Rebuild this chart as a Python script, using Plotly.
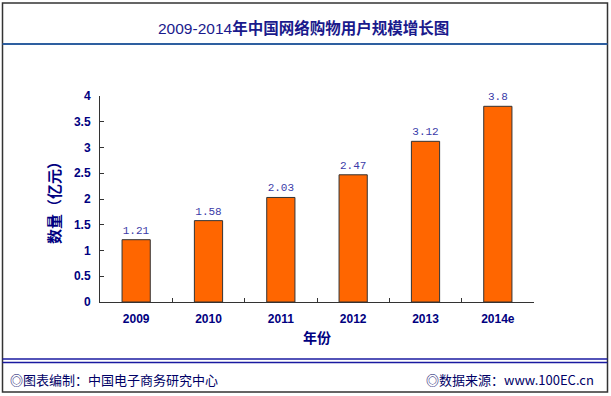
import plotly.graph_objects as go

categories = ["2009", "2010", "2011", "2012", "2013", "2014e"]
values = [1.21, 1.58, 2.03, 2.47, 3.12, 3.8]
value_labels = ["1.21", "1.58", "2.03", "2.47", "3.12", "3.8"]
y_ticks = [0, 0.5, 1, 1.5, 2, 2.5, 3, 3.5, 4]
title_text = "2009-2014<b>年中国网络购物用户规模增长图</b>"
y_title = "数量（亿元）"
x_title = "年份"
footer_left = "◎图表编制：中国电子商务研究中心"
footer_right = "◎数据来源：www.100EC.cn"

W, H = 611, 396
PL, PR, PT, PB = 100, 534, 96, 302

def px(x):
    return x / W

def py(y):
    return 1 - y / H

NAVY = "#000080"
CJK = "Liberation Sans, Noto Sans CJK SC, sans-serif"

fig = go.Figure()
fig.add_trace(go.Bar(
    x=categories, y=values, text=value_labels,
    textposition="outside", cliponaxis=False,
    textfont=dict(family="Liberation Mono, DejaVu Sans Mono, monospace", size=11, color="#3a3aa8"),
    marker=dict(color="#FF6600", line=dict(color="#333333", width=1)),
    width=0.39,
))

fig.update_layout(
    width=W, height=H,
    margin=dict(l=0, r=0, t=0, b=0),
    paper_bgcolor="white", plot_bgcolor="white",
    showlegend=False,
    xaxis=dict(
        domain=[px(PL), px(PR)],
        type="category",
        showline=True, linecolor="#333333", linewidth=1,
        ticks="inside", ticklen=4, tickcolor="#333333", tickson="boundaries",
        showgrid=False,
        ticklabelstandoff=6,
        tickfont=dict(family="Liberation Sans, Arial, sans-serif", size=12, color=NAVY, weight="bold"),
        title=dict(text=x_title, font=dict(family=CJK, size=14, color=NAVY, weight="bold"), standoff=7),
        automargin=False,
    ),
    yaxis=dict(
        domain=[py(PB), py(PT)],
        range=[0, 4],
        tickvals=y_ticks,
        ticktext=[("%g" % v) for v in y_ticks],
        showline=True, linecolor="#333333", linewidth=1,
        ticks="inside", ticklen=4, tickcolor="#333333",
        showgrid=False, zeroline=False,
        ticklabelstandoff=6,
        tickfont=dict(family="Liberation Sans, Arial, sans-serif", size=12, color=NAVY, weight="bold"),
        title=dict(text=y_title, font=dict(family=CJK, size=15, color=NAVY, weight="bold"), standoff=9),
        automargin=False,
    ),
)

fig.add_annotation(
    text=title_text, xref="paper", yref="paper", x=px(303), y=py(28),
    xanchor="center", yanchor="middle", showarrow=False,
    font=dict(family=CJK, size=15.5, color="#1a1a8c"),
)
fig.add_annotation(
    text=footer_left, xref="paper", yref="paper", x=px(8), y=py(379),
    xanchor="left", yanchor="middle", showarrow=False,
    font=dict(family="Noto Sans CJK SC, sans-serif", size=13, color="#000066"),
)
fig.add_annotation(
    text=footer_right, xref="paper", yref="paper", x=px(596), y=py(379),
    xanchor="right", yanchor="middle", showarrow=False,
    font=dict(family="Noto Sans CJK SC, sans-serif", size=13, color="#000066"),
)

shapes = [
    dict(type="rect", x0=px(2.5), x1=px(607.5), y0=py(3), y1=py(392), line=dict(color="#333333", width=1.5)),
    dict(type="line", x0=px(2.5), x1=px(607.5), y0=py(44), y1=py(44), line=dict(color="#2e5fa0", width=2)),
    dict(type="line", x0=px(2.5), x1=px(607.5), y0=py(359), y1=py(359), line=dict(color="#1a1aa0", width=1.5)),
    dict(type="line", x0=px(2.5), x1=px(607.5), y0=py(362.5), y1=py(362.5), line=dict(color="#1a1aa0", width=1.5)),
]
for s in shapes:
    s.update(xref="paper", yref="paper", layer="above")
    fig.add_shape(**s)

fig.write_html(
    "out.html",
    config={"displayModeBar": False},
    post_script="document.body.style.margin='0';document.body.style.padding='0';document.body.style.overflow='hidden';",
)
